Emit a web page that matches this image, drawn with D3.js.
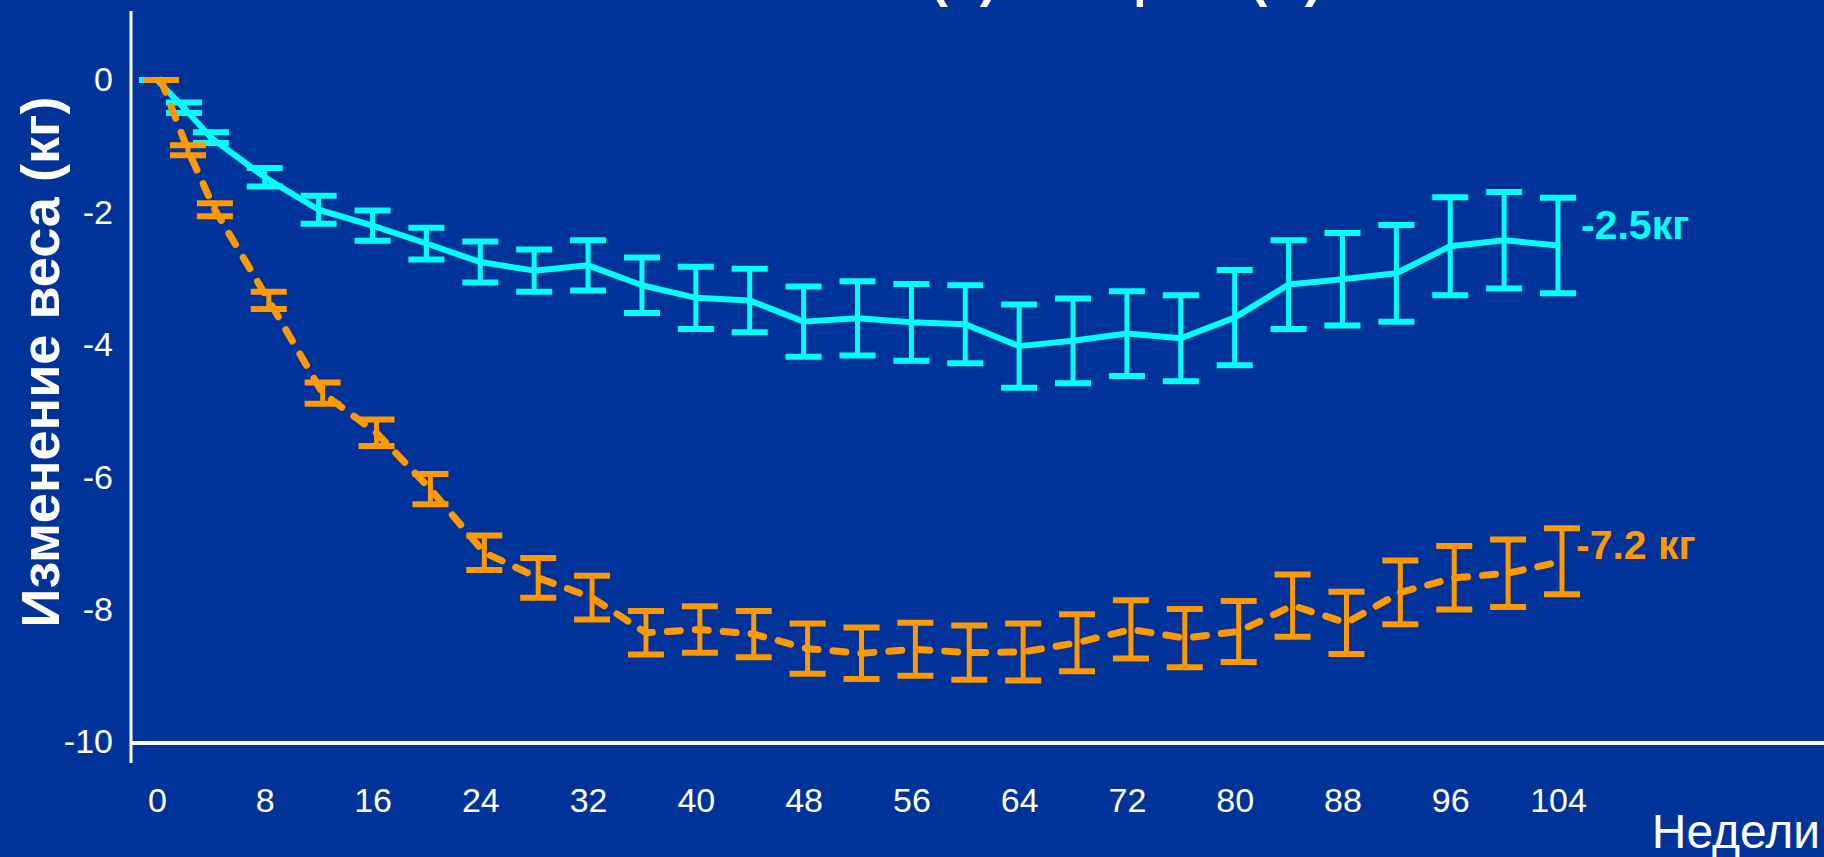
<!DOCTYPE html>
<html>
<head>
<meta charset="utf-8">
<script src="https://cdn.jsdelivr.net/npm/d3@7"></script>
<style>
  html, body { margin: 0; padding: 0; background: #003399; overflow: hidden; }
  svg { display: block; font-family: "Liberation Sans", Arial, sans-serif; }
</style>
</head>
<body>
<script>
// Data (weight change, kg)
var weeks = [0, 2, 4, 8, 12, 16, 20, 24, 28, 32, 36, 40, 44, 48, 52, 56, 60, 64, 68, 72, 76, 80, 84, 88, 92, 96, 100, 104];
var placebo = [0, -0.42, -0.87, -1.47, -1.96, -2.2, -2.47, -2.75, -2.88, -2.8, -3.1, -3.29, -3.33, -3.65, -3.6, -3.66, -3.69, -4.02, -3.94, -3.83, -3.9, -3.59, -3.09, -3.01, -2.92, -2.51, -2.42, -2.5];
var placeboErr = [0, 0.08, 0.08, 0.14, 0.21, 0.23, 0.24, 0.31, 0.32, 0.38, 0.42, 0.47, 0.48, 0.53, 0.56, 0.58, 0.59, 0.63, 0.64, 0.64, 0.65, 0.72, 0.67, 0.70, 0.73, 0.74, 0.73, 0.72];
var orlistat = [0, -1.06, -1.96, -3.33, -4.73, -5.33, -6.18, -7.14, -7.52, -7.82, -8.35, -8.3, -8.37, -8.59, -8.66, -8.6, -8.65, -8.64, -8.5, -8.3, -8.43, -8.33, -7.94, -8.2, -7.74, -7.52, -7.45, -7.27];
var orlistatErr = [0, 0.075, 0.1, 0.13, 0.16, 0.2, 0.23, 0.26, 0.3, 0.33, 0.33, 0.35, 0.35, 0.38, 0.39, 0.4, 0.41, 0.43, 0.43, 0.44, 0.44, 0.46, 0.47, 0.47, 0.48, 0.48, 0.51, 0.5];
var xTicks = [0, 8, 16, 24, 32, 40, 48, 56, 64, 72, 80, 88, 96, 104];
var yTicks = [0, -2, -4, -6, -8, -10];
var titleParts = ["Ксеникал (К)", "Плацебо (П)"];

var width = 1824;
var height = 857;

var svg = d3.select("body")
            .append("svg")
            .attr("width", width)
            .attr("height", height);

svg.append("rect")
   .attr("width", width)
   .attr("height", height)
   .attr("fill", "#003399");

var xScale = d3.scaleLinear().domain([0, 104]).range([157, 1558]);
var yScale = d3.scaleLinear().domain([0, -10]).range([80, 742]);

// title, only the bottoms of its brackets show at the top of the picture
svg.selectAll(".title")
   .data(titleParts)
   .enter()
   .append("text")
   .attr("class", "title")
   .attr("x", function(d, i) { return i === 0 ? 997 : 1322; })
   .attr("y", -4)
   .attr("text-anchor", "end")
   .attr("fill", "white")
   .attr("font-weight", "bold")
   .attr("font-size", "52px")
   .text(function(d) { return d; });

// axes (labels only, lines drawn below)
var yAxis = d3.axisLeft(yScale).tickValues(yTicks).tickSize(0).tickPadding(18)
              .tickFormat(function(d) { return d3.format("d")(d).replace("−", "-"); });
var gy = svg.append("g")
   .attr("class", "y-axis")
   .attr("transform", "translate(131, 0)")
   .call(yAxis);

var xAxis = d3.axisBottom(xScale).tickValues(xTicks).tickSize(0).tickPadding(0);
var gx = svg.append("g")
   .attr("class", "x-axis")
   .attr("transform", "translate(0, 788)")
   .call(xAxis);

svg.selectAll(".y-axis .domain, .x-axis .domain").remove();
svg.selectAll(".y-axis text, .x-axis text")
   .attr("fill", "white")
   .attr("font-size", "34px")
   .attr("font-family", "'Liberation Sans', Arial, sans-serif");
gx.selectAll("text").attr("dy", "0.71em");

svg.append("line")
   .attr("x1", 131).attr("x2", 131)
   .attr("y1", 11).attr("y2", 763)
   .attr("stroke", "white").attr("stroke-width", 3);

svg.append("line")
   .attr("x1", 131).attr("x2", width)
   .attr("y1", 743).attr("y2", 743)
   .attr("stroke", "white").attr("stroke-width", 4);

// axis titles
svg.append("text")
   .attr("transform", "translate(59, 362) rotate(-90)")
   .attr("text-anchor", "middle")
   .attr("fill", "white")
   .attr("font-weight", "bold")
   .attr("font-size", "54px")
   .text("Изменение веса (кг)");

svg.append("text")
   .attr("x", 1820)
   .attr("y", 848)
   .attr("text-anchor", "end")
   .attr("fill", "white")
   .attr("font-size", "48px")
   .text("Недели");

function drawSeries(values, errs, color, offset, dashed) {
  var pts = weeks.map(function(w, i) {
    return { w: w, v: values[i], e: errs[i] };
  });
  var g = svg.append("g");
  var line = d3.line()
               .x(function(d) { return xScale(d.w) + offset; })
               .y(function(d) { return yScale(d.v); });
  var path = g.append("path")
     .datum(pts)
     .attr("d", line)
     .attr("fill", "none")
     .attr("stroke", color)
     .attr("stroke-width", dashed ? 7 : 6)
     .attr("stroke-linejoin", "round");
  if (dashed) {
    path.attr("stroke-dasharray", "13,15").attr("stroke-linecap", "round");
  }

  var bars = g.selectAll(".bar")
     .data(pts)
     .enter()
     .append("g");
  bars.append("line")
      .attr("x1", function(d) { return xScale(d.w) + offset; })
      .attr("x2", function(d) { return xScale(d.w) + offset; })
      .attr("y1", function(d) { return yScale(d.v + d.e); })
      .attr("y2", function(d) { return yScale(d.v - d.e); })
      .attr("stroke", color)
      .attr("stroke-width", 5);
  [1, -1].forEach(function(s) {
    bars.append("line")
        .attr("x1", function(d) { return xScale(d.w) + offset - 18; })
        .attr("x2", function(d) { return xScale(d.w) + offset + 18; })
        .attr("y1", function(d) { return yScale(d.v + s * d.e); })
        .attr("y2", function(d) { return yScale(d.v + s * d.e); })
        .attr("stroke", color)
        .attr("stroke-width", 6);
  });
}

drawSeries(placebo, placeboErr, "#00ffff", 0, false);
drawSeries(orlistat, orlistatErr, "#ff9900", 4, true);

// end labels
svg.append("text")
   .attr("x", 1581)
   .attr("y", 239)
   .attr("fill", "#00ffff")
   .attr("font-weight", "bold")
   .attr("font-size", "41px")
   .text("-2.5кг");

svg.append("text")
   .attr("x", 1576)
   .attr("y", 559)
   .attr("fill", "#ff9900")
   .attr("font-weight", "bold")
   .attr("font-size", "41px")
   .text("-7.2 кг");
</script>
</body>
</html>
